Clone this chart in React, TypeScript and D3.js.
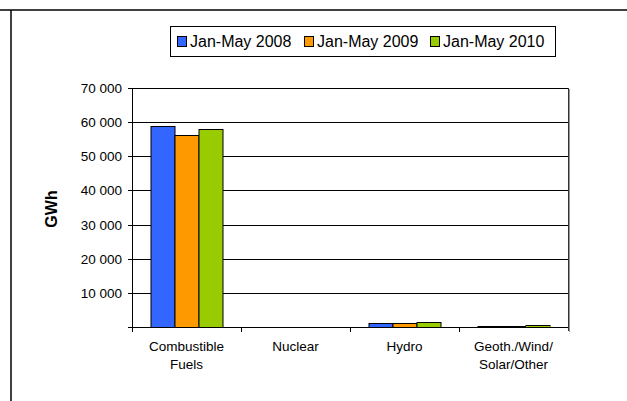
import React from "react";
import * as d3 from "d3";

const categories = ["Combustible Fuels", "Nuclear", "Hydro", "Geoth./Wind/Solar/Other"];
const categoryLines = [["Combustible", "Fuels"], ["Nuclear"], ["Hydro"], ["Geoth./Wind/", "Solar/Other"]];
const seriesNames = ["Jan-May 2008", "Jan-May 2009", "Jan-May 2010"];
const seriesColors = ["#3366FF", "#FF9900", "#99CC00"];
const values2008 = [58800, 0, 1200, 300];
const values2009 = [56300, 0, 1250, 300];
const values2010 = [57900, 0, 1450, 600];
const yTicks = [0, 10000, 20000, 30000, 40000, 50000, 60000, 70000];

const W = 627;
const H = 401;
const plot = { left: 132, right: 568, top: 88, bottom: 327 };
const font = "'Liberation Sans', Arial, sans-serif";

export default function App() {
  const series = [values2008, values2009, values2010];
  const x = d3.scaleBand<string>().domain(categories).range([plot.left, plot.right]).padding(0);
  const x1 = d3
    .scaleBand<number>()
    .domain([0, 1, 2])
    .range([18.5, x.bandwidth() - 18.5])
    .padding(0);
  const y = d3.scaleLinear().domain([0, 70000]).range([plot.bottom, plot.top]);
  const fmt = (v: number) => (v === 0 ? "" : d3.format(",")(v).replace(/,/g, " "));

  const legendX = [177, 304, 430];

  return (
    <svg
      width={W}
      height={H}
      style={{ position: "absolute", left: 0, top: 0, background: "#fff" }}
      fontFamily={font}
    >
      <rect x={0} y={0} width={W} height={H} fill="#fff" />
      {/* outer frame */}
      <line x1={0} x2={W} y1={10} y2={10} stroke="#000" strokeWidth={1.5} />
      <line x1={11} x2={11} y1={10} y2={H} stroke="#000" strokeWidth={1.5} />

      {/* legend */}
      <rect x={170.5} y={26.5} width={385} height={30} fill="#fff" stroke="#000" strokeWidth={1} />
      {seriesNames.map((name, i) => (
        <g key={name}>
          <rect
            x={legendX[i] + 0.5}
            y={36.5}
            width={9}
            height={10}
            fill={seriesColors[i]}
            stroke="#000"
            strokeWidth={1}
          />
          <text x={legendX[i] + 13} y={47} fontSize={16} fill="#000">
            {name}
          </text>
        </g>
      ))}

      {/* gridlines */}
      {yTicks.map((t) => (
        <line
          key={t}
          x1={plot.left}
          x2={plot.right}
          y1={Math.round(y(t)) + 0.5}
          y2={Math.round(y(t)) + 0.5}
          stroke="#000"
          strokeWidth={1}
        />
      ))}
      {/* right border with shadow */}
      <line x1={plot.right + 1.5} x2={plot.right + 1.5} y1={plot.top + 1} y2={plot.bottom + 5} stroke="#999" strokeWidth={1} />
      <line x1={plot.right + 0.5} x2={plot.right + 0.5} y1={plot.top} y2={plot.bottom + 4} stroke="#333" strokeWidth={1} />

      {/* bars */}
      {categories.map((c, ci) => (
        <g key={c} transform={`translate(${x(c)},0)`}>
          {series.map((vals, si) => {
            const v = vals[ci];
            if (v <= 0) return null;
            const top = y(v);
            return (
              <rect
                key={si}
                x={(x1(si) as number) + 0.5}
                y={Math.round(top) + 0.5}
                width={x1.bandwidth()}
                height={Math.max(0, plot.bottom - Math.round(top))}
                fill={seriesColors[si]}
                stroke="#000"
                strokeWidth={1}
              />
            );
          })}
        </g>
      ))}

      {/* y axis */}
      <line x1={plot.left + 0.5} x2={plot.left + 0.5} y1={plot.top} y2={plot.bottom + 4} stroke="#000" strokeWidth={1} />
      {yTicks.map((t) => (
        <g key={t}>
          <line
            x1={plot.left - 4}
            x2={plot.left}
            y1={Math.round(y(t)) + 0.5}
            y2={Math.round(y(t)) + 0.5}
            stroke="#000"
          />
          <text x={122} y={y(t) + 5} fontSize={13.5} textAnchor="end" fill="#000">
            {fmt(t)}
          </text>
        </g>
      ))}

      {/* x axis */}
      <line x1={plot.left} x2={plot.right} y1={plot.bottom + 0.5} y2={plot.bottom + 0.5} stroke="#000" strokeWidth={1} />
      {categories.map((c) => (
        <line
          key={c}
          x1={Math.round(x(c) as number) + 0.5}
          x2={Math.round(x(c) as number) + 0.5}
          y1={plot.bottom}
          y2={plot.bottom + 5}
          stroke="#000"
        />
      ))}
      {categories.map((c, ci) => (
        <text
          key={c}
          x={(x(c) as number) + x.bandwidth() / 2}
          y={351}
          fontSize={13.5}
          textAnchor="middle"
          fill="#000"
        >
          {categoryLines[ci].map((ln, li) => (
            <tspan key={li} x={(x(c) as number) + x.bandwidth() / 2} dy={li === 0 ? 0 : 18}>
              {ln}
            </tspan>
          ))}
        </text>
      ))}

      {/* y axis title */}
      <text
        transform={`translate(57,209) rotate(-90)`}
        fontSize={16}
        fontWeight="bold"
        textAnchor="middle"
        fill="#000"
      >
        GWh
      </text>
    </svg>
  );
}
